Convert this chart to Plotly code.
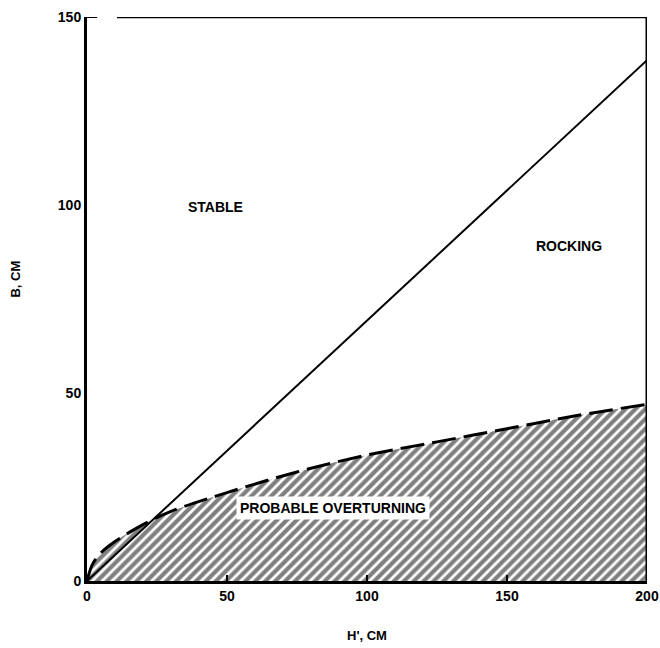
import plotly.graph_objects as go

# Data
curve_h = [0, 2, 5, 10, 20, 30, 50, 75, 100, 125, 150, 175, 200]
curve_b = [0, 4.5, 7.5, 10.5, 15, 18.5, 23.5, 29, 33.5, 37, 40.5, 44, 47]
line_h = [0, 200]
line_b = [0, 138.5]

x_ticks = [0, 50, 100, 150, 200]
y_ticks = [0, 50, 100, 150]

region_labels = ["STABLE", "ROCKING", "PROBABLE OVERTURNING"]
region_x = [46, 172, 88]
region_y = [99.5, 89, 19.5]

x_title = "H', CM"
y_title = "B, CM"

font = "Liberation Sans"

fig = go.Figure()

# Hatched overturning region under the dashed curve
fig.add_trace(go.Scatter(
    x=curve_h, y=curve_b, mode="lines", fill="tozeroy", line_shape="spline",
    fillcolor="rgba(0,0,0,0)",
    fillpattern=dict(shape="/", fgcolor="black", bgcolor="white", size=7, solidity=0.6),
    line=dict(color="rgba(0,0,0,0)", width=0), hoverinfo="skip", showlegend=False))

# Solid boundary line
fig.add_trace(go.Scatter(
    x=line_h, y=line_b, mode="lines",
    line=dict(color="black", width=2), showlegend=False))

# Dashed boundary curve
fig.add_trace(go.Scatter(
    x=curve_h, y=curve_b, mode="lines", line_shape="spline",
    line=dict(color="black", width=3, dash="24px,8px"), showlegend=False))

for txt, xx, yy in zip(region_labels, region_x, region_y):
    fig.add_annotation(
        x=xx, y=yy, text="<b>" + txt + "</b>", showarrow=False,
        font=dict(family=font, size=14, color="black"),
        bgcolor="white" if txt.startswith("PROBABLE") else None,
        borderpad=3)

fig.add_annotation(
    xref="paper", yref="paper", x=0.5, y=-0.0975, yanchor="middle",
    text="<b>" + x_title + "</b>", showarrow=False,
    font=dict(family=font, size=13, color="black"))
fig.add_annotation(
    xref="paper", yref="paper", x=-0.128, y=0.535, xanchor="center", yanchor="middle",
    textangle=-90, text="<b>" + y_title + "</b>", showarrow=False,
    font=dict(family=font, size=13, color="black"))

fig.update_xaxes(
    range=[0, 200], tickvals=x_ticks, ticktext=["<b>%d</b>" % v for v in x_ticks],
    showgrid=False, zeroline=False, showline=True, linecolor="black", linewidth=3,
    mirror=False, ticks="inside", ticklen=6, tickwidth=2, tickcolor="black",
    tickfont=dict(family=font, size=14, color="black"), automargin=False)

fig.update_yaxes(
    range=[0, 150], tickvals=y_ticks, ticktext=["<b>%d</b>" % v for v in y_ticks],
    showgrid=False, zeroline=False, showline=True, linecolor="black", linewidth=3,
    mirror=False, ticks="outside", ticklen=0, tickwidth=2, tickcolor="black",
    tickfont=dict(family=font, size=14, color="black"), automargin=False)

# Top and right frame lines
fig.add_shape(type="line", xref="x", yref="y", x0=10.7, x1=200, y0=150, y1=150,
              line=dict(color="black", width=2.5))
fig.add_shape(type="line", xref="x", yref="y", x0=0, x1=3.6, y0=150, y1=150,
              line=dict(color="black", width=2))
fig.add_shape(type="line", xref="x", yref="y", x0=200, x1=200, y0=0, y1=150,
              line=dict(color="black", width=3))

fig.update_layout(
    width=660, height=648,
    margin=dict(l=87, r=13, t=17, b=67, autoexpand=False),
    plot_bgcolor="white", paper_bgcolor="white",
    showlegend=False)

fig.write_html("out.html", config={"displayModeBar": False},
               post_script="document.body.style.margin='0';document.body.style.overflow='hidden';")
